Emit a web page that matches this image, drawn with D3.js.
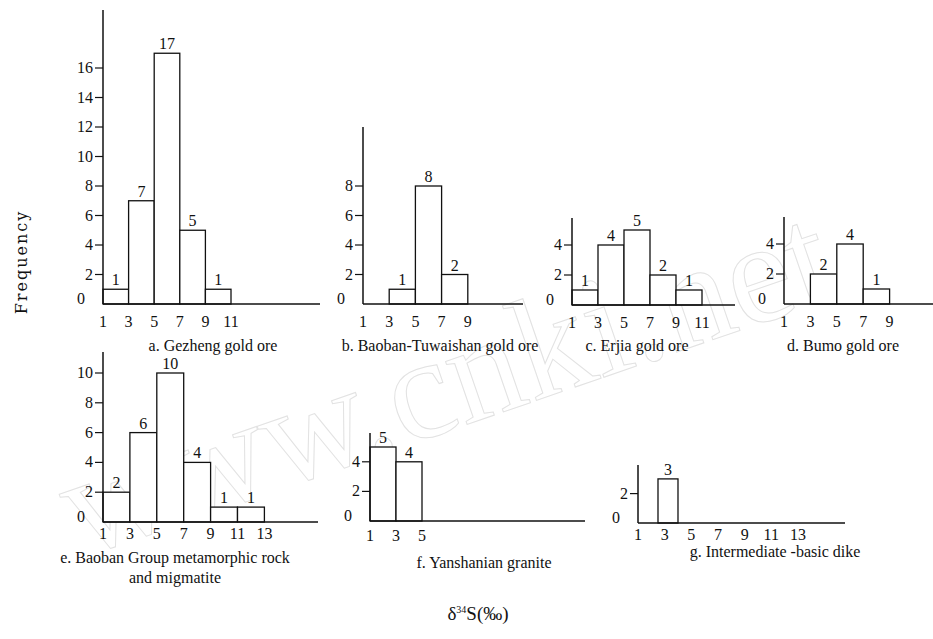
<!DOCTYPE html>
<html>
<head>
<meta charset="utf-8">
<script src="https://cdn.jsdelivr.net/npm/d3@7"></script>
<style>
  html, body { margin: 0; padding: 0; background: #fff; }
  svg { display: block; }
  text { font-family: "Liberation Serif", "DejaVu Serif", serif; fill: #111; }
</style>
</head>
<body>
<svg id="chart" width="933" height="639"></svg>
<script>
// ---------- DATA ----------
const panelIds = ["a", "b", "c", "d", "e", "f", "g"];
const panelTitles = [
  ["a. Gezheng gold ore"],
  ["b. Baoban-Tuwaishan gold ore"],
  ["c. Erjia gold ore"],
  ["d. Bumo gold ore"],
  ["e. Baoban Group metamorphic rock", "and migmatite"],
  ["f. Yanshanian granite"],
  ["g. Intermediate -basic dike"]
];
// bins as [from, to] in δ34S (‰)
const binsA = [[1,3],[3,5],[5,7],[7,9],[9,11]];
const countsA = [1, 7, 17, 5, 1];
const binsB = [[3,5],[5,7],[7,9]];
const countsB = [1, 8, 2];
const binsC = [[1,3],[3,5],[5,7],[7,9],[9,11]];
const countsC = [1, 4, 5, 2, 1];
const binsD = [[3,5],[5,7],[7,9]];
const countsD = [2, 4, 1];
const binsE = [[1,3],[3,5],[5,7],[7,9],[9,11],[11,13]];
const countsE = [2, 6, 10, 4, 1, 1];
const binsF = [[1,3],[3,5]];
const countsF = [5, 4];
const binsG = [[2.5,4]];
const countsG = [3];

const yTicksA = [0,2,4,6,8,10,12,14,16];
const yTicksB = [0,2,4,6,8];
const yTicksC = [0,2,4];
const yTicksD = [0,2,4];
const yTicksE = [0,2,4,6,8,10];
const yTicksF = [0,2,4];
const yTicksG = [0,2];

const xTicksA = [1,3,5,7,9,11];
const xTicksB = [1,3,5,7,9];
const xTicksC = [1,3,5,7,9,11];
const xTicksD = [1,3,5,7,9];
const xTicksE = [1,3,5,7,9,11,13];
const xTicksF = [1,3,5];
const xTicksG = [1,3,5,7,9,11,13];

const yAxisLabel = "Frequency";
const watermark = "www.cnki.net";

// ---------- LAYOUT (pixels) ----------
const layout = {
  a: {axisX:103, end:320, unitX:12.8, base:304, top:10,  unitY:14.75, titleX:213, titleY:351, tickLabY:327},
  b: {axisX:363, end:523, unitX:13.1, base:304, top:127, unitY:14.75, titleX:440, titleY:351, tickLabY:327},
  c: {axisX:572, end:735, unitX:13.0, base:305, top:218, unitY:15.0,  titleX:637, titleY:351, tickLabY:328},
  d: {axisX:784, end:933, unitX:13.2, base:304, top:217, unitY:15.0,  titleX:843, titleY:351, tickLabY:327},
  e: {axisX:103, end:318, unitX:13.45,base:522, top:352, unitY:14.9,  titleX:175, titleY:563, tickLabY:539},
  f: {axisX:370, end:585, unitX:13.0, base:521, top:433, unitY:14.8,  titleX:484, titleY:568, tickLabY:541},
  g: {axisX:638, end:845, unitX:13.33,base:523, top:465, unitY:14.7,  titleX:775, titleY:557, tickLabY:540}
};

const data = {
  a: {bins:binsA, counts:countsA, yt:yTicksA, xt:xTicksA},
  b: {bins:binsB, counts:countsB, yt:yTicksB, xt:xTicksB},
  c: {bins:binsC, counts:countsC, yt:yTicksC, xt:xTicksC},
  d: {bins:binsD, counts:countsD, yt:yTicksD, xt:xTicksD},
  e: {bins:binsE, counts:countsE, yt:yTicksE, xt:xTicksE},
  f: {bins:binsF, counts:countsF, yt:yTicksF, xt:xTicksF},
  g: {bins:binsG, counts:countsG, yt:yTicksG, xt:xTicksG}
};

const svg = d3.select("#chart");

// watermark (faint outlined text)
svg.append("text")
  .attr("x", 0).attr("y", 0)
  .attr("transform", "translate(450,395) rotate(-19)")
  .attr("text-anchor", "middle")
  .attr("dominant-baseline", "middle")
  .style("font-size", "145px")
  .style("fill", "none")
  .style("stroke", "#e2e2e2")
  .style("stroke-width", 1)
  .text(watermark);

panelIds.forEach((id, i) => {
  const L = layout[id], D = data[id];
  const x = d3.scaleLinear()
    .domain([1, 1 + (L.end - L.axisX) / L.unitX])
    .range([L.axisX, L.end]);
  const y = d3.scaleLinear()
    .domain([0, (L.base - L.top) / L.unitY])
    .range([L.base, L.top]);
  const g = svg.append("g").attr("class", "panel-" + id);

  const rows = D.bins.map((b, k) => ({b, c: D.counts[k]}));

  // bars
  g.selectAll("rect.bar").data(rows)
    .enter().append("rect")
    .attr("class", "bar")
    .attr("x", d => x(d.b[0]))
    .attr("width", d => x(d.b[1]) - x(d.b[0]))
    .attr("y", d => y(d.c))
    .attr("height", d => y(0) - y(d.c))
    .attr("fill", "#fff")
    .attr("stroke", "#111")
    .attr("stroke-width", 1.3);

  // value labels
  g.selectAll("text.val").data(rows)
    .enter().append("text")
    .attr("class", "val")
    .attr("x", d => (x(d.b[0]) + x(d.b[1])) / 2)
    .attr("y", d => y(d.c) - 4)
    .attr("text-anchor", "middle")
    .style("font-size", "16px")
    .text(d => d.c);

  // y axis line
  g.append("line")
    .attr("x1", L.axisX).attr("x2", L.axisX)
    .attr("y1", y(0)).attr("y2", L.top)
    .attr("stroke", "#111").attr("stroke-width", 1.5);
  // x axis line
  g.append("line")
    .attr("x1", L.axisX).attr("x2", L.end)
    .attr("y1", y(0)).attr("y2", y(0))
    .attr("stroke", "#111").attr("stroke-width", 1.5);

  // y ticks (no tick mark at 0)
  g.selectAll("line.yt").data(D.yt.filter(v => v > 0)).enter().append("line")
    .attr("class", "yt")
    .attr("x1", L.axisX - 8).attr("x2", L.axisX)
    .attr("y1", d => y(d)).attr("y2", d => y(d))
    .attr("stroke", "#111").attr("stroke-width", 1.2);
  g.selectAll("text.yl").data(D.yt).enter().append("text")
    .attr("class", "yl")
    .attr("x", d => d === 0 ? L.axisX - 22 : L.axisX - 10)
    .attr("y", d => y(d) + (d === 0 ? 0 : 5))
    .attr("text-anchor", d => d === 0 ? "middle" : "end")
    .style("font-size", "16px")
    .text(d => d);

  // x tick labels
  g.selectAll("text.xl").data(D.xt).enter().append("text")
    .attr("class", "xl")
    .attr("x", d => x(d))
    .attr("y", L.tickLabY)
    .attr("text-anchor", "middle")
    .style("font-size", "16px")
    .text(d => d);

  // title
  panelTitles[i].forEach((t, k) => {
    g.append("text")
      .attr("x", L.titleX)
      .attr("y", L.titleY + k * 20)
      .attr("text-anchor", "middle")
      .style("font-size", "16px")
      .text(t);
  });
});

// y axis title
svg.append("text")
  .attr("transform", "translate(27,262) rotate(-90)")
  .attr("text-anchor", "middle")
  .style("font-family", "'DejaVu Serif', serif")
  .style("font-size", "16px")
  .style("letter-spacing", "2px")
  .text(yAxisLabel);

// x axis title δ34S(‰)
const xt = svg.append("text")
  .attr("x", 478).attr("y", 620)
  .attr("text-anchor", "middle")
  .style("font-size", "19px");
xt.append("tspan").text("δ");
xt.append("tspan").attr("dy", -7).style("font-size", "10px").text("34");
xt.append("tspan").attr("dy", 7).text("S(‰)");
</script>
</body>
</html>
